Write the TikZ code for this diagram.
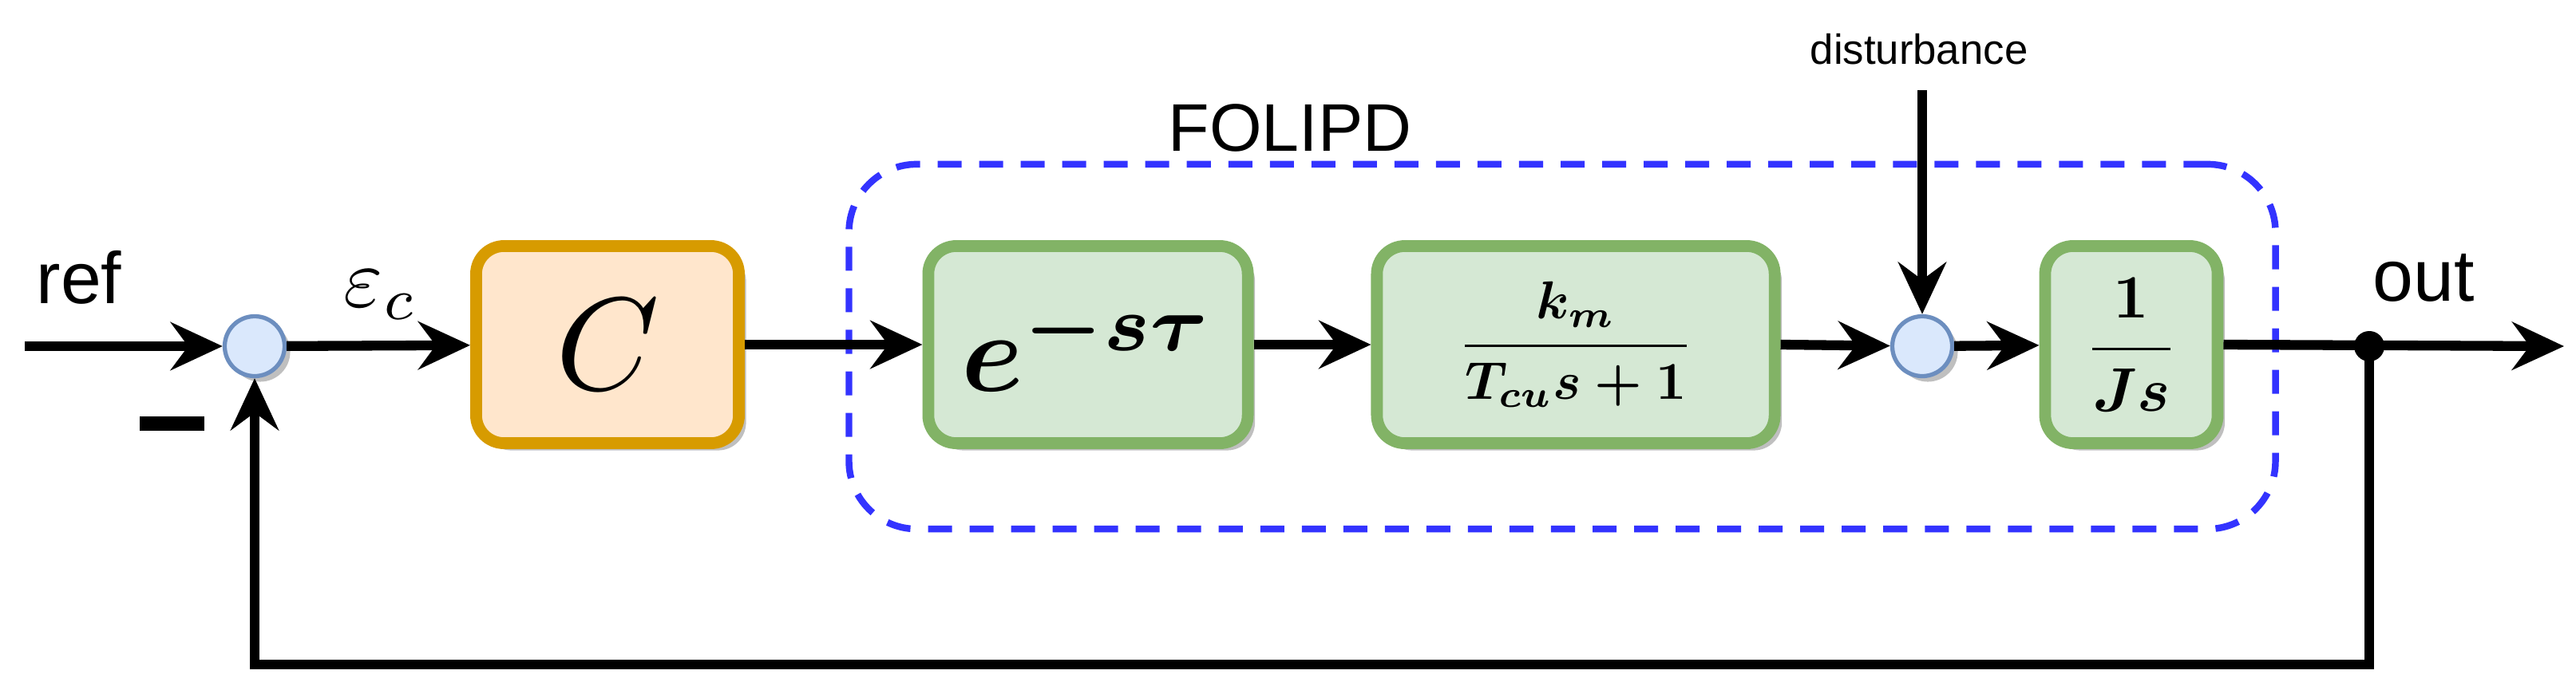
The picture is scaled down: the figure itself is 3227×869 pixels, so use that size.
\documentclass[tikz,border=0pt]{standalone}
\usepackage{amsmath}
\usepackage{graphicx}
\usepackage{fontspec}
\setmainfont{Liberation Sans}
\usetikzlibrary{positioning,shapes,arrows.meta,calc,shadows}
\definecolor{orfill}{HTML}{FFE6CC}
\definecolor{ordraw}{HTML}{D79B00}
\definecolor{grfill}{HTML}{D5E8D4}
\definecolor{grdraw}{HTML}{82B366}
\definecolor{blfill}{HTML}{DAE8FC}
\definecolor{bldraw}{HTML}{6C8EBF}
\definecolor{dashblue}{HTML}{3333FF}
\tikzset{
  blk/.style={draw, line width=4.2pt, rounded corners=0.35cm, inner sep=0pt,
    drop shadow={shadow xshift=0.09cm, shadow yshift=-0.09cm, fill=black!25, opacity=1}},
  sum/.style={circle, draw=bldraw, fill=blfill, line width=1.5pt, minimum size=0.75cm, inner sep=0pt,
    drop shadow={shadow xshift=0.07cm, shadow yshift=-0.07cm, fill=black!25, opacity=1}},
  sig/.style={line width=3.5pt, -{Stealth[length=0.65cm, width=0.6cm, inset=0.22cm]}}
}
\begin{document}
\begin{tikzpicture}[x=0.01cm, y=-0.01cm]
  \useasboundingbox (0,0) rectangle (3227,869);
  \node[draw=dashblue, dash pattern=on 0.3cm off 0.22cm, line width=2.4pt, rounded corners=0.85cm,
    minimum width=17.86cm, minimum height=4.57cm] (folipd) at (1957,434.5) {};
  \node[font=\fontsize{24}{28}\selectfont] (lbl) at (1616,160) {FOLIPD};
  \node[blk, draw=ordraw, fill=orfill, minimum width=3.29cm, minimum height=2.47cm] (ctrl) at (761,432)
    {\scalebox{4.7}{$C$}};
  \node[blk, draw=grdraw, fill=grfill, minimum width=4.0cm, minimum height=2.47cm] (delay) at (1363,432)
    {\scalebox{4}{\boldmath$e^{-s\tau}$}};
  \node[blk, draw=grdraw, fill=grfill, minimum width=4.98cm, minimum height=2.47cm] (motor) at (1974,432)
    {\scalebox{1.9}{\boldmath$\dfrac{k_m}{T_{cu}s+1}$}};
  \node[blk, draw=grdraw, fill=grfill, minimum width=2.16cm, minimum height=2.47cm] (integ) at (2670,432)
    {\scalebox{2.2}{\boldmath$\dfrac{1}{Js}$}};
  \node[sum] (sumone) at (319,434) {};
  \node[sum] (sumtwo) at (2408,434) {};
  \fill (2968,434) circle (0.19cm);
  \coordinate (split) at (2968,434);
  \coordinate (refin) at (31,434);
  \coordinate (outend) at (3212,434);
  \coordinate (distin) at (2408,113);
  \coordinate (fbcorner) at (2968,833);
  \node[font=\fontsize{26}{30}\selectfont] (reflbl) at (99,348) {ref};
  \node[font=\fontsize{26}{30}\selectfont] (outlbl) at (3036,348) {out};
  \node[font=\fontsize{15}{18}\selectfont] (distlbl) at (2404,62) {disturbance};
  \node (errlbl) at (477,370) {\scalebox{3}{$\varepsilon_c$}};
  \draw[line width=5pt] (175,531) -- (256,531);
  \draw[sig] (refin) -- (sumone);
  \draw[sig] (sumone) -- (ctrl);
  \draw[sig] (ctrl) -- (delay);
  \draw[sig] (delay) -- (motor);
  \draw[sig] (motor.east) -- (sumtwo);
  \draw[sig] (sumtwo) -- (integ);
  \draw[sig] (integ.east) -- (outend);
  \draw[sig] (distin) -- (sumtwo);
  \draw[sig] (split) -- (fbcorner) -| (sumone);
\end{tikzpicture}
\end{document}
